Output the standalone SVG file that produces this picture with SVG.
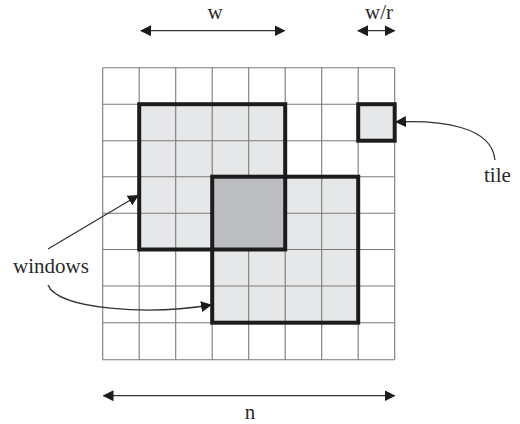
<svg xmlns="http://www.w3.org/2000/svg" width="520" height="424" viewBox="0 0 520 424">
  <defs>
    <style>
      .bg { fill: #ffffff; }
      .cell { fill: #e6e7e9; }
      .overlap { fill: #bbbdc0; }
      .grid line { stroke: #7a7a7a; stroke-width: 1.1; }
      .frame { fill: none; stroke: #1c1c1c; stroke-width: 4; stroke-linejoin: miter; }
      .dim { fill: none; stroke: #333333; stroke-width: 1.3; }
      .lbl { font-family: "Liberation Serif", "DejaVu Serif", serif; font-size: 21px; fill: #2a2a2a; }
    </style>
    <marker id="head" viewBox="0 0 11 11" refX="10" refY="5.5" markerWidth="11" markerHeight="11" markerUnits="userSpaceOnUse" orient="auto-start-reverse">
      <path d="M0,0 L11,5.5 L0,11 z" fill="#1c1c1c"/>
    </marker>
  </defs>

  <rect class="bg" x="0" y="0" width="520" height="424"/>

  <!-- fills of the two windows and the single tile -->
  <g id="window-a-fill">
    <rect class="cell" x="139.2" y="104.2" width="146" height="146"/>
  </g>
  <g id="window-b-fill">
    <rect class="cell" x="212.2" y="176.7" width="146" height="146"/>
  </g>
  <g id="tile-fill">
    <rect class="cell" x="358.2" y="104.2" width="36.5" height="36.5"/>
  </g>

  <!-- 8 x 8 grid -->
  <g id="grid" class="grid">
    <line x1="102.7" y1="67.7" x2="102.7" y2="359.7"/>
    <line x1="139.2" y1="67.7" x2="139.2" y2="359.7"/>
    <line x1="175.7" y1="67.7" x2="175.7" y2="359.7"/>
    <line x1="212.2" y1="67.7" x2="212.2" y2="359.7"/>
    <line x1="248.7" y1="67.7" x2="248.7" y2="359.7"/>
    <line x1="285.2" y1="67.7" x2="285.2" y2="359.7"/>
    <line x1="321.7" y1="67.7" x2="321.7" y2="359.7"/>
    <line x1="358.2" y1="67.7" x2="358.2" y2="359.7"/>
    <line x1="394.7" y1="67.7" x2="394.7" y2="359.7"/>
    <line x1="102.7" y1="67.7" x2="394.7" y2="67.7"/>
    <line x1="102.7" y1="104.2" x2="394.7" y2="104.2"/>
    <line x1="102.7" y1="140.7" x2="394.7" y2="140.7"/>
    <line x1="102.7" y1="176.7" x2="394.7" y2="176.7"/>
    <line x1="102.7" y1="213.3" x2="394.7" y2="213.3"/>
    <line x1="102.7" y1="249.5" x2="394.7" y2="249.5"/>
    <line x1="102.7" y1="286" x2="394.7" y2="286"/>
    <line x1="102.7" y1="322.7" x2="394.7" y2="322.7"/>
    <line x1="102.7" y1="359.7" x2="394.7" y2="359.7"/>
  </g>

  <!-- shared area of the two windows, drawn solid over the grid -->
  <g id="overlap">
    <rect class="overlap" x="212.2" y="176.7" width="73" height="72.8"/>
  </g>

  <!-- heavy outlines -->
  <g id="window-a">
    <rect class="frame" x="139.2" y="104.2" width="146" height="145.3"/>
  </g>
  <g id="window-b">
    <rect class="frame" x="212.2" y="176.7" width="146" height="146"/>
  </g>
  <g id="tile">
    <rect class="frame" x="358.2" y="104.2" width="36.5" height="36.5"/>
  </g>

  <!-- dimension arrows and pointers -->
  <g id="connectors">
    <line class="dim" x1="141" y1="30.7" x2="284.5" y2="30.7" marker-start="url(#head)" marker-end="url(#head)"/>
    <line class="dim" x1="358" y1="30.7" x2="394.5" y2="30.7" marker-start="url(#head)" marker-end="url(#head)"/>
    <line class="dim" x1="103.5" y1="395.7" x2="394.5" y2="395.7" marker-start="url(#head)" marker-end="url(#head)"/>
    <path class="dim" d="M48,249 L138,195.5" marker-end="url(#head)"/>
    <path class="dim" d="M48,285 C58,310 150,315 211,305" marker-end="url(#head)"/>
    <path class="dim" d="M495,160 C492,126 440,120 396,122" marker-end="url(#head)"/>
  </g>

  <!-- labels -->
  <g id="labels">
    <text class="lbl" x="215" y="19" text-anchor="middle">w</text>
    <text class="lbl" x="379" y="19" text-anchor="middle">w/r</text>
    <text class="lbl" x="250" y="419" text-anchor="middle">n</text>
    <text class="lbl" x="13" y="273">windows</text>
    <text class="lbl" x="484" y="181.5">tile</text>
  </g>
</svg>
